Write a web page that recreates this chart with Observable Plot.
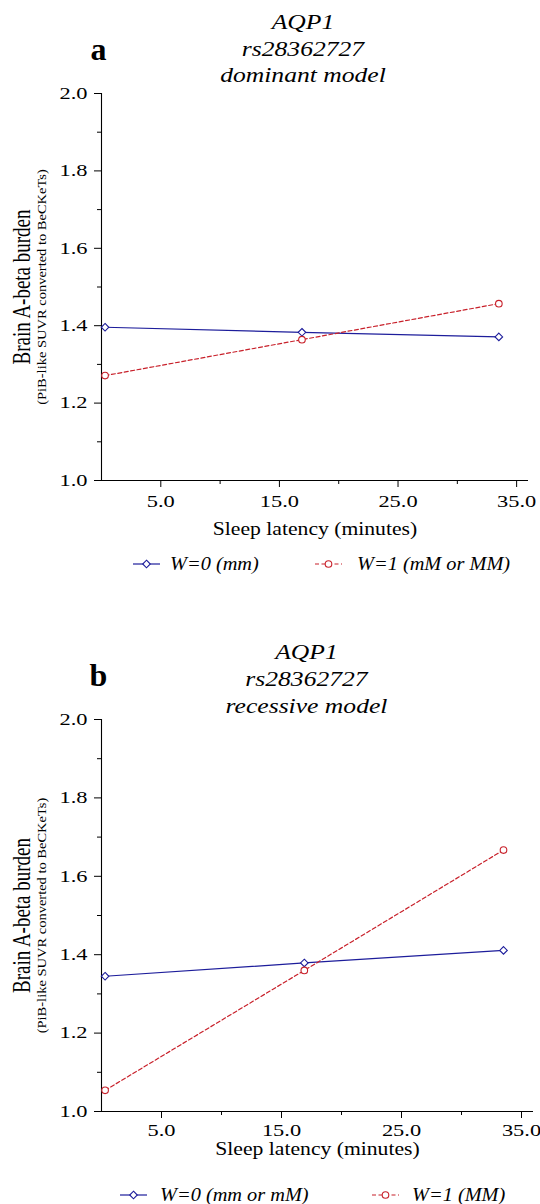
<!DOCTYPE html>
<html><head><meta charset="utf-8">
<script src="https://cdn.jsdelivr.net/npm/d3@7"></script>
<script src="https://cdn.jsdelivr.net/npm/@observablehq/plot@0.6"></script>
<style>
body{margin:0;background:#fff;width:540px;height:1204px;position:relative;overflow:hidden;font-family:"Liberation Serif",serif;}
.panel{position:absolute;left:0;}
svg text{font-family:"Liberation Serif",serif;}
</style></head><body>
<div id="pa" class="panel" style="top:0"></div>
<div id="la" class="panel" style="top:552px"></div>
<div id="pb" class="panel" style="top:630px"></div>
<div id="lb" class="panel" style="top:1183px"></div>
<script>
// ---- data ----
const sleepLatency = [0.3, 16.9, 33.5];
const domW0 = [1.396, 1.383, 1.371];
const domW1 = [1.271, 1.364, 1.457];
const recW0 = [1.345, 1.379, 1.411];
const recW1 = [1.054, 1.360, 1.667];
const xTicks = [5, 15, 25, 35];
const xMinorTicks = [10, 20, 30];
const yTicks = [1.0, 1.2, 1.4, 1.6, 1.8, 2.0];
const yMinorTicks = [1.1, 1.3, 1.5, 1.7, 1.9];
const titleA = "AQP1\nrs28362727\ndominant model";
const titleB = "AQP1\nrs28362727\nrecessive model";
const legendA = ["W=0 (mm)", "W=1 (mM or MM)"];
const legendB = ["W=0 (mm or mM)", "W=1 (MM)"];
const xLabel = "Sleep latency (minutes)";
const yLabel1 = "Brain A-beta burden";
const yLabel2 = "(PiB-like SUVR converted to BeCKeTs)";

const FONT = "Liberation Serif";
const BLUE = "#1d1d9b";
const RED = "#c8202a";

function stretchEl(t, s, rotated) {
  let tr = t.getAttribute("transform");
  if (!tr) {
    const x = t.getAttribute("x") || 0, y = t.getAttribute("y") || 0;
    t.setAttribute("x", 0); t.setAttribute("y", 0);
    tr = `translate(${x},${y})`;
  }
  t.setAttribute("transform", tr + (rotated ? ` scale(1,${s})` : ` scale(${s},1)`));
}

function panel(cfg) {
  const w0 = sleepLatency.map((x, i) => ({x, y: cfg.w0[i]}));
  const w1 = sleepLatency.map((x, i) => ({x, y: cfg.w1[i]}));
  const svg = Plot.plot({
    width: 540, height: cfg.height,
    marginLeft: 101, marginRight: cfg.mr, marginTop: cfg.mt, marginBottom: cfg.mb,
    x: {domain: [0, 36]},
    y: {domain: [1, 2]},
    style: {fontFamily: FONT, background: "white", color: "black", overflow: "visible"},
    marks: [
      Plot.axisX(xTicks, {tickSize: 7, tickPadding: cfg.xpad, tickFormat: d => d.toFixed(1), fontSize: 16.5, fontFamily: FONT, label: null, stroke: "black"}),
      Plot.axisX(xMinorTicks, {tickSize: 4, tickFormat: () => "", label: null, stroke: "black"}),
      Plot.axisY(yTicks, {tickSize: 7, tickPadding: 7, tickFormat: d => d.toFixed(1), fontSize: 16.5, fontFamily: FONT, label: null, stroke: "black"}),
      Plot.axisY(yMinorTicks, {tickSize: 4, tickFormat: () => "", label: null, stroke: "black"}),
      Plot.ruleY([1], {stroke: "black", strokeWidth: 1.1}),
      Plot.ruleX([0], {stroke: "black", strokeWidth: 1.1}),
      Plot.line(w0, {x: "x", y: "y", stroke: BLUE, strokeWidth: 1.2}),
      Plot.line(w1, {x: "x", y: "y", stroke: RED, strokeWidth: 1.2, strokeDasharray: "4,2.5"}),
      Plot.dot(w0, {x: "x", y: "y", symbol: "diamond2", r: 3.4, stroke: BLUE, fill: "white", strokeWidth: 1.1}),
      Plot.dot(w1, {x: "x", y: "y", symbol: "circle", r: 3.3, stroke: RED, fill: "white", strokeWidth: 1.1}),
      Plot.text([cfg.title], {text: d => d, frameAnchor: "top", dx: cfg.tdx, dy: cfg.tdy, fontSize: 20, fontFamily: FONT, fontStyle: "italic", lineHeight: 1.33, lineAnchor: "middle", textAnchor: "middle", fill: "black"}),
      Plot.text([cfg.letter], {text: d => d, frameAnchor: "top-left", dx: -3, dy: cfg.ldy, fontSize: 32, fontFamily: FONT, fontWeight: "bold", textAnchor: "middle", lineAnchor: "middle", fill: "black"}),
      Plot.text([xLabel], {text: d => d, frameAnchor: "bottom", dy: cfg.xldy, fontSize: 19, fontFamily: FONT, textAnchor: "middle", lineAnchor: "middle", fill: "black"}),
      Plot.text([yLabel1], {text: d => d, frameAnchor: "left", rotate: -90, dx: -79.5, fontSize: 19, fontFamily: FONT, textAnchor: "middle", lineAnchor: "middle", fill: "black"}),
      Plot.text([yLabel2], {text: d => d, frameAnchor: "left", rotate: -90, dx: -60, fontSize: 14.5, fontFamily: FONT, textAnchor: "middle", lineAnchor: "middle", fill: "black"})
    ]
  });
  svg.querySelectorAll('g[aria-label*="tick label"] text').forEach(t => stretchEl(t, 1.36, false));
  const rules = new Map([
    [cfg.title.replace(/\n/g, ""), [1.28, false]],
    [xLabel, [1.14, false]],
    [yLabel1, [1.3, true]],
    [yLabel2, [0.9, true]]
  ]);
  svg.querySelectorAll("text").forEach(t => {
    const r = rules.get(t.textContent);
    if (r) stretchEl(t, r[0], r[1]);
  });
  return svg;
}

function legend(labels, layout) {
  const svg = d3.create("svg").attr("width", 540).attr("height", 24).style("display", "block");
  const specs = [
    {color: BLUE, dash: null, symbol: "diamond"},
    {color: RED, dash: "4,2.5", symbol: "circle"}
  ];
  labels.forEach((label, i) => {
    const L = layout[i], s = specs[i];
    svg.append("line").attr("x1", L.x0).attr("x2", L.x1).attr("y1", 12).attr("y2", 12)
      .attr("stroke", s.color).attr("stroke-width", 1.2).attr("stroke-dasharray", s.dash);
    const cx = (L.x0 + L.x1) / 2;
    if (s.symbol === "diamond") {
      svg.append("path").attr("d", d3.symbol(d3.symbolDiamond2, Math.PI * 3.4 * 3.4)())
        .attr("transform", `translate(${cx},12)`).attr("fill", "white").attr("stroke", s.color).attr("stroke-width", 1.1);
    } else {
      svg.append("circle").attr("cx", cx).attr("cy", 12).attr("r", 3.3)
        .attr("fill", "white").attr("stroke", s.color).attr("stroke-width", 1.1);
    }
    svg.append("text").attr("transform", `translate(${L.tx},12) scale(1.13,1)`).attr("dy", "0.32em")
      .attr("font-size", 18).attr("font-style", "italic").attr("font-family", FONT).attr("fill", "black").text(label);
  });
  return svg.node();
}

document.getElementById("pa").append(panel({
  w0: domW0, w1: domW1, title: titleA, letter: "a",
  height: 540, mt: 93, mb: 60, mr: 12, xpad: 7.3, xldy: 48.9, tdy: -46.4, tdx: -12, ldy: -44
}));
document.getElementById("pb").append(panel({
  w0: recW0, w1: recW1, title: titleB, letter: "b",
  height: 536, mt: 89, mb: 55, mr: 7, xpad: 5.3, xldy: 37.9, tdy: -42, tdx: -11, ldy: -44
}));
document.getElementById("la").append(legend(legendA, [
  {x0: 133, x1: 160, tx: 170}, {x0: 315, x1: 342, tx: 357}
]));
document.getElementById("lb").append(legend(legendB, [
  {x0: 120, x1: 147, tx: 160}, {x0: 372, x1: 399, tx: 412}
]));
</script>
</body></html>
